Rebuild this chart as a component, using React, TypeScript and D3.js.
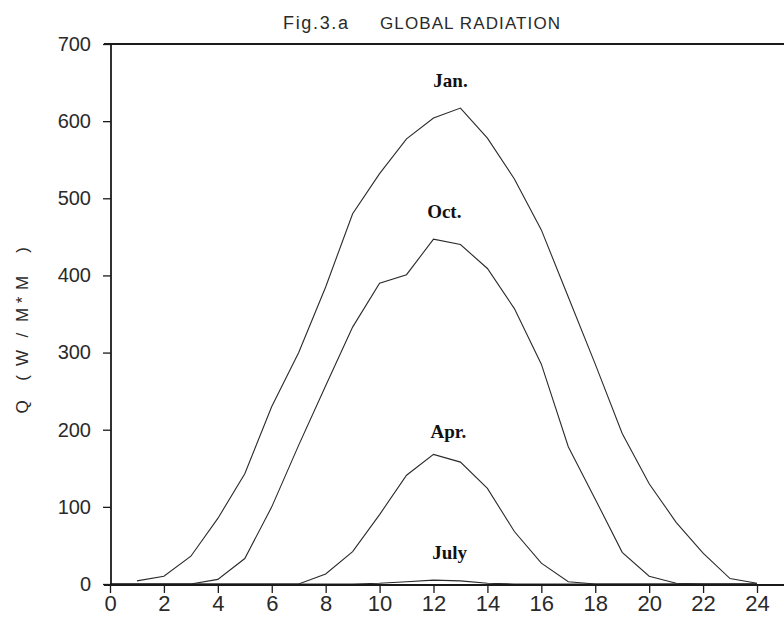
import React, { useEffect, useRef } from 'react';
import { select, scaleLinear, axisLeft, axisBottom, line, range } from 'd3';

// hours of the day
const hours = range(0, 25);
const janHours = range(1, 25);

// global radiation Q (W/M*M)
const janValues = [4, 10, 36, 85, 143, 230, 300, 385, 480, 532, 577, 604, 617, 578, 525, 459, 372, 285, 195, 130, 80, 40, 7, 1];
const octValues = [0, 0, 0, 0, 6, 33, 100, 180, 257, 333, 390, 401, 447, 440, 409, 357, 285, 178, 110, 41, 10, 1, 0, 0, 0];
const aprValues = [0, 0, 0, 0, 0, 0, 0, 0, 13, 42, 90, 141, 168, 158, 124, 68, 27, 3, 0, 0, 0, 0, 0, 0, 0];
const julyValues = [0, 0, 0, 0, 0, 0, 0, 0, 0, 0, 1, 3, 5, 4, 1, 0, 0, 0, 0, 0, 0, 0, 0, 0, 0];

const seriesNames = ['Jan.', 'Oct.', 'Apr.', 'July'];
// label anchors in data units (hour, Q)
const labelHours = [12.63, 12.4, 12.55, 12.6];
const labelValues = [644, 474, 189, 32];

const yTicks = [0, 100, 200, 300, 400, 500, 600, 700];
const xTicks = range(0, 25, 2);

const title = 'Fig.3.a';
const titleRest = 'GLOBAL  RADIATION';
const yLabel = 'Q(W/M*M)';
// typewriter-like spacing of the y title, px from the first glyph
const yLabelOffsets = [0, 29, 49, 72, 92, 107, 124, 157];

function App() {
  const svgRef = useRef(null);
  const width = 784;
  const height = 620;

  useEffect(() => {
    const svg = select(svgRef.current);
    svg.selectAll('*').remove();

    const x = scaleLinear().domain([0, 24]).range([110, 757]);
    const y = scaleLinear().domain([0, 700]).range([584, 44]);
    const ink = '#1a1a1a';
    const sans = '"Liberation Sans", Arial, sans-serif';

    const series = [
      janHours.map((h, i) => [h, janValues[i]]),
      hours.map((h, i) => [h, octValues[i]]),
      hours.map((h, i) => [h, aprValues[i]]),
      hours.map((h, i) => [h, julyValues[i]]),
    ];

    const gen = line()
      .x(d => x(d[0]))
      .y(d => y(d[1]));

    svg.append('g')
      .selectAll('path')
      .data(series)
      .join('path')
      .attr('d', d => gen(d))
      .attr('fill', 'none')
      .attr('stroke', '#2a2a2a')
      .attr('stroke-width', 1.1);

    // frame lines
    svg.append('line').attr('x1', 104).attr('x2', width).attr('y1', y(700)).attr('y2', y(700))
      .attr('stroke', ink).attr('stroke-width', 1.8);
    svg.append('line').attr('x1', 111).attr('x2', 111).attr('y1', y(700)).attr('y2', y(0) + 1)
      .attr('stroke', ink).attr('stroke-width', 1.8);
    svg.append('line').attr('x1', 104).attr('x2', width).attr('y1', y(0) + 1).attr('y2', y(0) + 1)
      .attr('stroke', ink).attr('stroke-width', 1.8);

    // axes
    const yAxis = axisLeft(y).tickValues(yTicks).tickSize(8).tickPadding(12);
    const gy = svg.append('g').attr('transform', 'translate(111,0)').call(yAxis);
    gy.select('.domain').remove();
    gy.selectAll('line').attr('stroke', ink).attr('stroke-width', 1.3);
    gy.selectAll('text')
      .attr('fill', '#2a2a2a')
      .style('font-family', sans)
      .style('font-size', '20px');

    const xAxis = axisBottom(x).tickValues(xTicks).tickSize(8).tickPadding(2);
    const gx = svg.append('g').attr('transform', `translate(0,${y(0) + 1})`).call(xAxis);
    gx.select('.domain').remove();
    gx.selectAll('line').attr('stroke', ink).attr('stroke-width', 1.3);
    gx.selectAll('text')
      .attr('fill', '#2a2a2a')
      .style('font-family', sans)
      .style('font-size', '22px');

    // series labels
    svg.append('g')
      .selectAll('text')
      .data(seriesNames)
      .join('text')
      .attr('x', (d, i) => x(labelHours[i]))
      .attr('y', (d, i) => y(labelValues[i]))
      .attr('text-anchor', 'middle')
      .attr('fill', '#111')
      .style('font-family', '"Liberation Serif", "Times New Roman", serif')
      .style('font-weight', 'bold')
      .style('font-size', '19px')
      .text(d => d);

    // title
    svg.append('text')
      .attr('x', 283).attr('y', 29)
      .attr('textLength', 65).attr('lengthAdjust', 'spacing')
      .attr('fill', '#2a2a2a')
      .style('font-family', sans)
      .style('font-size', '18px')
      .text(title);
    svg.append('text')
      .attr('x', 380).attr('y', 29)
      .attr('textLength', 180).attr('lengthAdjust', 'spacing')
      .attr('fill', '#2a2a2a')
      .style('font-family', sans)
      .style('font-size', '17px')
      .text(titleRest);

    // y axis title
    svg.append('text')
      .attr('transform', 'translate(28,407) rotate(-90)')
      .attr('x', yLabelOffsets.join(' '))
      .attr('text-anchor', 'middle')
      .attr('fill', '#2a2a2a')
      .style('font-family', sans)
      .style('font-size', '17px')
      .text(yLabel);
  }, []);

  return (
    <div>
      <svg
        ref={svgRef}
        width={width}
        height={height}
        style={{ position: 'absolute', left: 0, top: 0, background: '#fff' }}
      />
    </div>
  );
}

export default App;
